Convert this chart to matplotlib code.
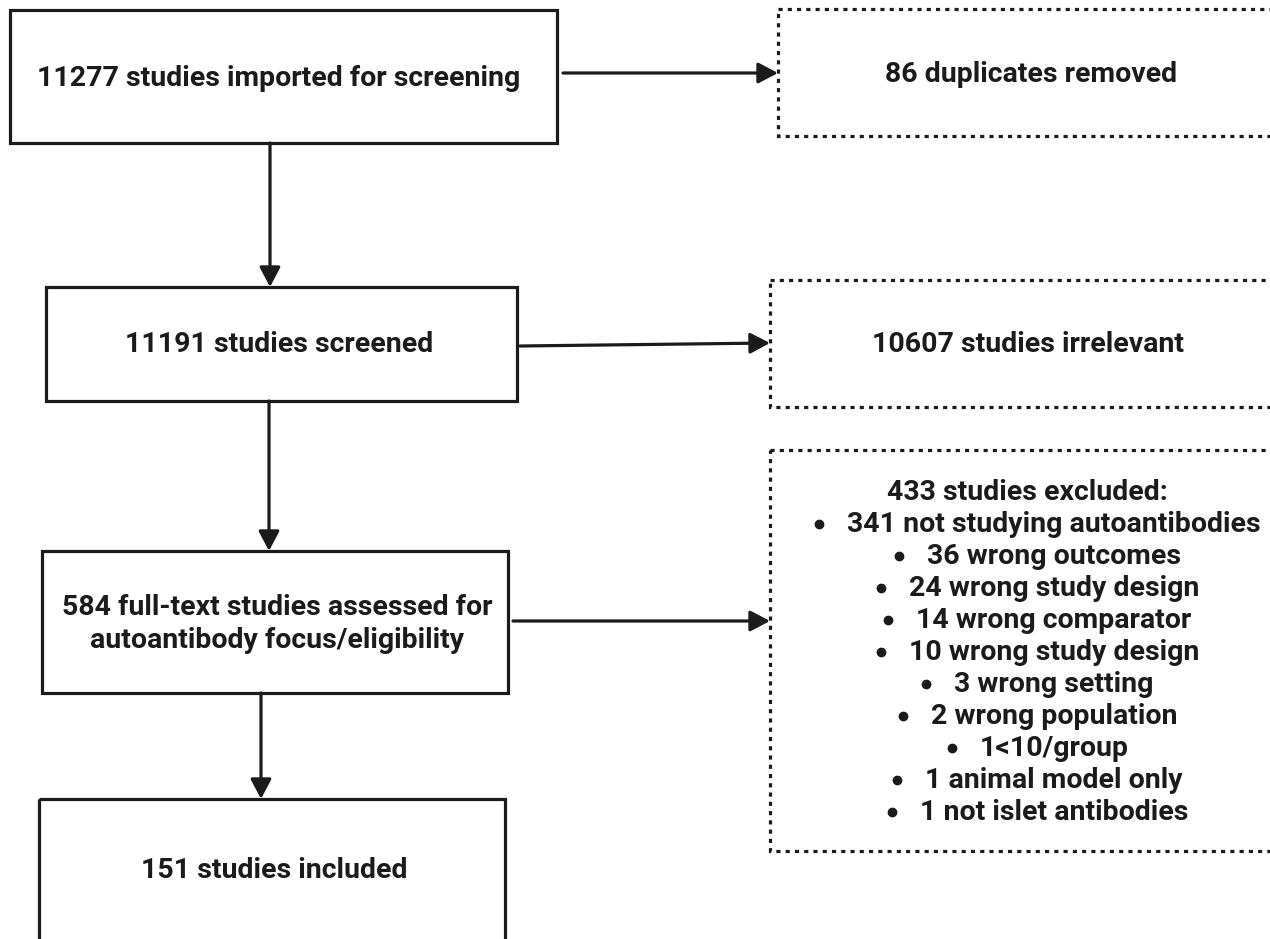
import matplotlib
matplotlib.use('Agg')
import matplotlib.pyplot as plt
from matplotlib.patches import Rectangle

# flow counts
n_imported = 11277
n_duplicates = 86
n_screened = 11191
n_irrelevant = 10607
n_fulltext = 584
n_excluded = 433
n_included = 151

# reasons for exclusion at full-text stage
reasons = ['341 not studying autoantibodies',
           '36 wrong outcomes',
           '24 wrong study design',
           '14 wrong comparator',
           '10 wrong study design',
           '3 wrong setting',
           '2 wrong population',
           '1<10/group',
           '1 animal model only',
           '1 not islet antibodies']

INK = '#1b1b1b'
FONT = ['Roboto', 'DejaVu Sans']
FS = 20.5
LW = 2.3

fig = plt.figure(figsize=(12.7, 9.39), dpi=100)
ax = fig.add_axes([0, 0, 1, 1])
ax.set_xlim(0, 1270)
ax.set_ylim(939, 0)
ax.axis('off')


def box(x0, y0, x1, y1, dashed=False):
    ls = (0, (1.3, 1.6)) if dashed else '-'
    ax.add_patch(Rectangle((x0, y0), x1 - x0, y1 - y0, fill=False,
                           ec=INK, lw=LW, ls=ls, joinstyle='miter'))


def label(x, y, s, ha='center'):
    return ax.text(x, y, s, ha=ha, va='center', fontsize=FS,
                   fontweight='bold', family=FONT, color=INK, linespacing=1.27)


def arrow(x0, y0, x1, y1):
    ax.annotate('', xy=(x1, y1), xytext=(x0, y0),
                arrowprops=dict(arrowstyle='-|>,head_length=0.8,head_width=0.42',
                                mutation_scale=15, lw=LW, color=INK,
                                shrinkA=0, shrinkB=0))


# main column
box(10, 10, 557, 143)
label(279, 78, f'{n_imported} studies imported for screening')
box(46, 287, 517, 401)
label(279, 345, f'{n_screened} studies screened')
box(42, 551, 508, 693)
label(277, 624, f'{n_fulltext} full-text studies assessed for\nautoantibody focus/eligibility')
box(39, 799, 505, 990)
label(274, 871, f'{n_included} studies included')

# side column
box(778, 9, 1290, 136, dashed=True)
label(1031, 74, f'{n_duplicates} duplicates removed')
box(770, 280, 1290, 407, dashed=True)
label(1028, 345, f'{n_irrelevant} studies irrelevant')
box(770, 450, 1290, 851, dashed=True)

label(1027, 492, f'{n_excluded} studies excluded:')

# bulleted reasons: line (bullet + text) centred on the box
bullet_gap = 28
texts = []
for i, r in enumerate(reasons):
    texts.append(label(1040 + bullet_gap / 2, 524 + i * 32, r))
fig.canvas.draw()
inv = ax.transData.inverted()
for t in texts:
    bb = t.get_window_extent()
    left = inv.transform((bb.x0, 0))[0]
    ax.plot(left - bullet_gap, t.get_position()[1], 'o', ms=6, color=INK)

# arrows
arrow(270, 143, 270, 287)
arrow(269, 401, 269, 551)
arrow(261, 693, 261, 799)
arrow(563, 73, 778, 73)
arrow(520, 346, 770, 343)
arrow(513, 621, 770, 621)

fig.savefig('out.png', dpi=100, facecolor='white')
